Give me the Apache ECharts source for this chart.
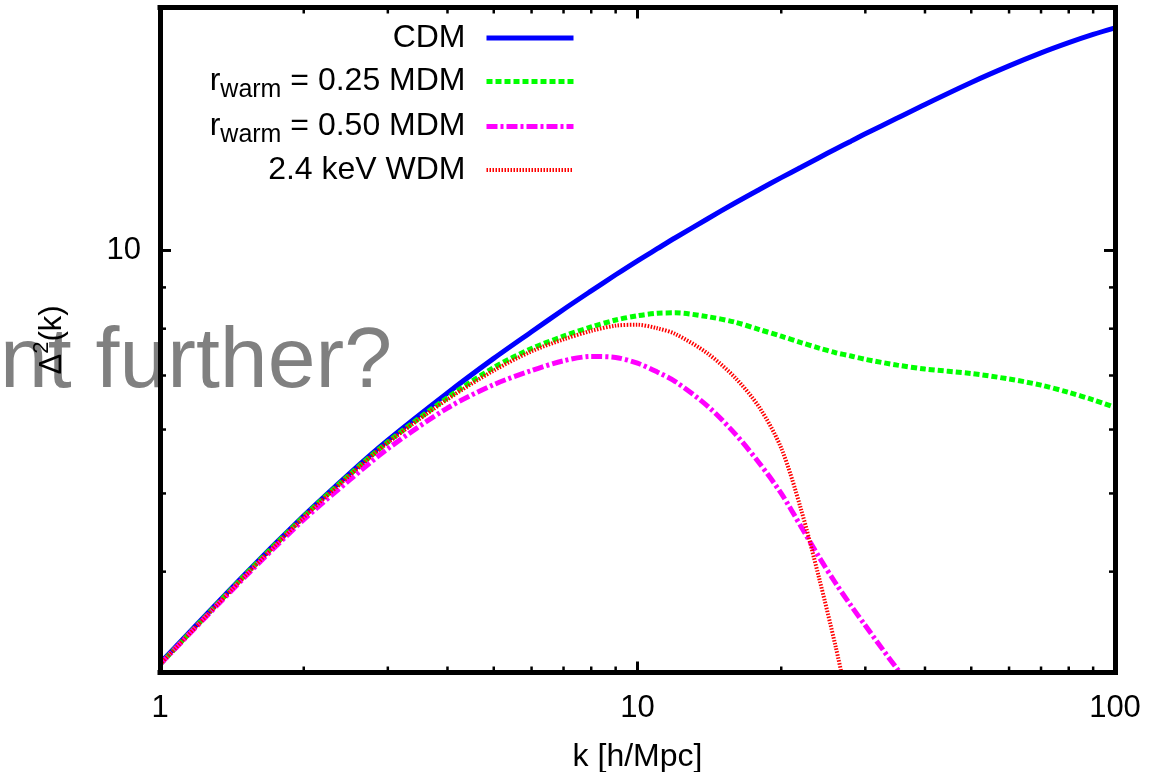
<!DOCTYPE html>
<html>
<head>
<meta charset="utf-8">
<script src="https://cdn.jsdelivr.net/npm/echarts@6/dist/echarts.min.js"></script>
<style>
html,body{margin:0;padding:0;background:#fff;}
#chart{width:1162px;height:772px;}
</style>
</head>
<body>
<div id="chart"></div>
<script>
// ---- data ----
const k      = [1, 1.5, 2, 2.5, 3, 4, 5, 6, 7, 8, 9, 10, 11, 12, 14, 16, 18, 20, 22, 24, 26, 28, 30, 35, 40, 50, 60, 70, 80, 90, 100];
const cdm    = [3.08, 3.96, 4.69, 5.30, 5.82, 6.66, 7.35, 7.93, 8.45, 8.91, 9.33, 9.71, 10.05, 10.37, 10.94, 11.45, 11.90, 12.31, 12.68, 13.03, 13.36, 13.66, 13.95, 14.59, 15.17, 16.15, 16.93, 17.57, 18.09, 18.52, 18.87];
const mdm025 = [3.07, 3.95, 4.68, 5.28, 5.79, 6.57, 7.16, 7.56, 7.83, 8.04, 8.20, 8.30, 8.36, 8.37, 8.28, 8.15, 7.98, 7.83, 7.69, 7.57, 7.47, 7.40, 7.33, 7.21, 7.13, 7.04, 6.93, 6.81, 6.67, 6.53, 6.39];
const mdm050 = [3.07, 3.93, 4.64, 5.20, 5.68, 6.38, 6.82, 7.10, 7.30, 7.39, 7.37, 7.25, 7.07, 6.88, 6.42, 5.93, 5.45, 5.00, 4.55, 4.17, 3.87, 3.63, 3.43, 3.03, 2.75, null, null, null, null, null, null];
const wdm    = [3.07, 3.94, 4.67, 5.27, 5.78, 6.54, 7.10, 7.50, 7.76, 7.95, 8.07, 8.09, 8.01, 7.88, 7.46, 6.96, 6.39, 5.69, 4.78, 3.93, 3.23, 2.64, null, null, null, null, null, null, null, null, null];

const seriesNames = ['CDM', 'r_warm = 0.25 MDM', 'r_warm = 0.50 MDM', '2.4 keV WDM'];
const xTickLabels = ['1', '10', '100'];
const yTickLabels = ['10'];
const xMajorTicks = [10];
const xMinorTicks = [2, 3, 4, 5, 6, 7, 8, 9, 20, 30, 40, 50, 60, 70, 80, 90];
const yMajorTicks = [10];
const yMinorTicks = [4, 5, 6, 7, 8, 9];
const xTitle = 'k [h/Mpc]';
const yTitle = '{a|Δ}{p|2}{a|(k)}';
const overlayText = 'nt further?';

// ---- chart ----
const FONT = 'Liberation Sans, Arial, Helvetica, sans-serif';
const pair = (ys) => k.map((x, i) => [x, ys[i]]);

const styles = [
  { color: '#0000ff', width: 5, type: 'solid' },
  { color: '#00ff00', width: 5, type: [6, 3] },
  { color: '#ff00ff', width: 5, type: [11, 3, 3, 3] },
  { color: '#ff0000', width: 4, type: [1.5, 1.5] }
];
const values = [cdm, mdm025, mdm050, wdm];

const lineSeries = seriesNames.map((name, i) => ({
  name: name,
  type: 'line',
  xAxisIndex: 0,
  yAxisIndex: 0,
  data: pair(values[i]),
  symbol: 'none',
  showSymbol: false,
  smooth: 0.3,
  clip: true,
  connectNulls: false,
  z: 2 + i,
  lineStyle: { color: styles[i].color, width: styles[i].width, type: styles[i].type, cap: 'butt' },
  itemStyle: { color: styles[i].color }
}));

function tickSeries(vals, isX, len, lw) {
  return {
    type: 'custom',
    xAxisIndex: 0,
    yAxisIndex: 0,
    silent: true,
    clip: false,
    z: 20,
    data: vals.map(v => isX ? [v, 10] : [10, v]),
    renderItem: function (params, api) {
      const cs = params.coordSys;
      const p = api.coord([api.value(0), api.value(1)]);
      const st = { stroke: '#000', lineWidth: lw };
      if (isX) {
        const b = cs.y + cs.height, t = cs.y;
        return { type: 'group', children: [
          { type: 'line', shape: { x1: p[0], y1: b, x2: p[0], y2: b - len }, style: st },
          { type: 'line', shape: { x1: p[0], y1: t, x2: p[0], y2: t + len }, style: st }
        ]};
      } else {
        const l = cs.x, r = cs.x + cs.width;
        return { type: 'group', children: [
          { type: 'line', shape: { x1: l, y1: p[1], x2: l + len, y2: p[1] }, style: st },
          { type: 'line', shape: { x1: r, y1: p[1], x2: r - len, y2: p[1] }, style: st }
        ]};
      }
    }
  };
}

const axisLine = { show: true, onZero: false, lineStyle: { color: '#000', width: 5, cap: 'square' } };

const option = {
  animation: false,
  backgroundColor: '#fff',
  grid: { left: 160, right: 47, top: 7.5, bottom: 99.5, containLabel: false, outerBoundsMode: 'none' },
  graphic: [{
    type: 'text', z: 0, silent: true,
    x: 392, y: 363,
    style: { text: overlayText, fontSize: 86, fontFamily: FONT, fill: '#808080', align: 'right', verticalAlign: 'middle' }
  }],
  legend: {
    orient: 'vertical',
    align: 'right',
    right: 586,
    top: 18,
    padding: 0,
    itemWidth: 87,
    itemHeight: 14,
    itemGap: 2,
    selectedMode: false,
    data: seriesNames.map((n, i) => ({
      name: n,
      lineStyle: { color: styles[i].color, width: styles[i].width, type: styles[i].type },
      itemStyle: { color: 'rgba(0,0,0,0)', borderWidth: 0, opacity: 0 }
    })),
    formatter: function (name) { return name.replace(/^r_warm/, '{r|r}{s|warm}'); },
    textStyle: {
      fontSize: 32, fontFamily: FONT, color: '#000', lineHeight: 40, padding: [0, 16, 0, 0],
      rich: {
        r: { fontSize: 32, fontFamily: FONT, color: '#000', lineHeight: 40 },
        s: { fontSize: 25, fontFamily: FONT, color: '#000', lineHeight: 22, padding: [18, 0, 0, 0] }
      }
    }
  },
  xAxis: [
    {
      type: 'log', logBase: 10, min: 1, max: 100, position: 'bottom', z: 10,
      axisLine: axisLine, axisTick: { show: false }, minorTick: { show: false }, splitLine: { show: false },
      axisLabel: {
        fontSize: 31, fontFamily: FONT, color: '#000', margin: 20,
        formatter: function (v) {
          const lbl = String(Math.round(v));
          return xTickLabels.indexOf(lbl) >= 0 ? lbl : '';
        }
      },
      name: xTitle, nameLocation: 'middle', nameGap: 69,
      nameTextStyle: { fontSize: 32, fontFamily: FONT, color: '#000' }
    },
    {
      type: 'log', logBase: 10, min: 1, max: 100, position: 'top', z: 10,
      axisLine: axisLine, axisTick: { show: false }, axisLabel: { show: false }, splitLine: { show: false }
    }
  ],
  yAxis: [
    {
      type: 'log', logBase: 10, min: 3, max: 20, position: 'left', z: 10,
      axisLine: axisLine, axisTick: { show: false }, minorTick: { show: false }, splitLine: { show: false },
      axisLabel: {
        fontSize: 31, fontFamily: FONT, color: '#000', margin: 19,
        formatter: function (v) {
          for (const t of yTickLabels) { if (Math.abs(v - Number(t)) < 1e-6) return t; }
          return '';
        }
      },
      name: yTitle, nameLocation: 'middle', nameRotate: 90, nameGap: 87,
      nameTextStyle: {
        fontSize: 31, fontFamily: FONT, color: '#000', lineHeight: 42,
        rich: {
          a: { fontSize: 31, fontFamily: FONT, color: '#000', lineHeight: 42 },
          p: { fontSize: 22, fontFamily: FONT, color: '#000', lineHeight: 22, padding: [0, 0, 20, 0] }
        }
      }
    },
    {
      type: 'log', logBase: 10, min: 3, max: 20, position: 'right', z: 10,
      axisLine: axisLine, axisTick: { show: false }, axisLabel: { show: false }, splitLine: { show: false }
    }
  ],
  series: lineSeries.concat([
    tickSeries(xMajorTicks, true, 11, 3),
    tickSeries(xMinorTicks, true, 6, 2.5),
    tickSeries(yMajorTicks, false, 11, 3),
    tickSeries(yMinorTicks, false, 6, 2.5)
  ])
};

const chart = echarts.init(document.getElementById('chart'), null, { renderer: 'canvas' });
chart.setOption(option);
</script>
</body>
</html>
